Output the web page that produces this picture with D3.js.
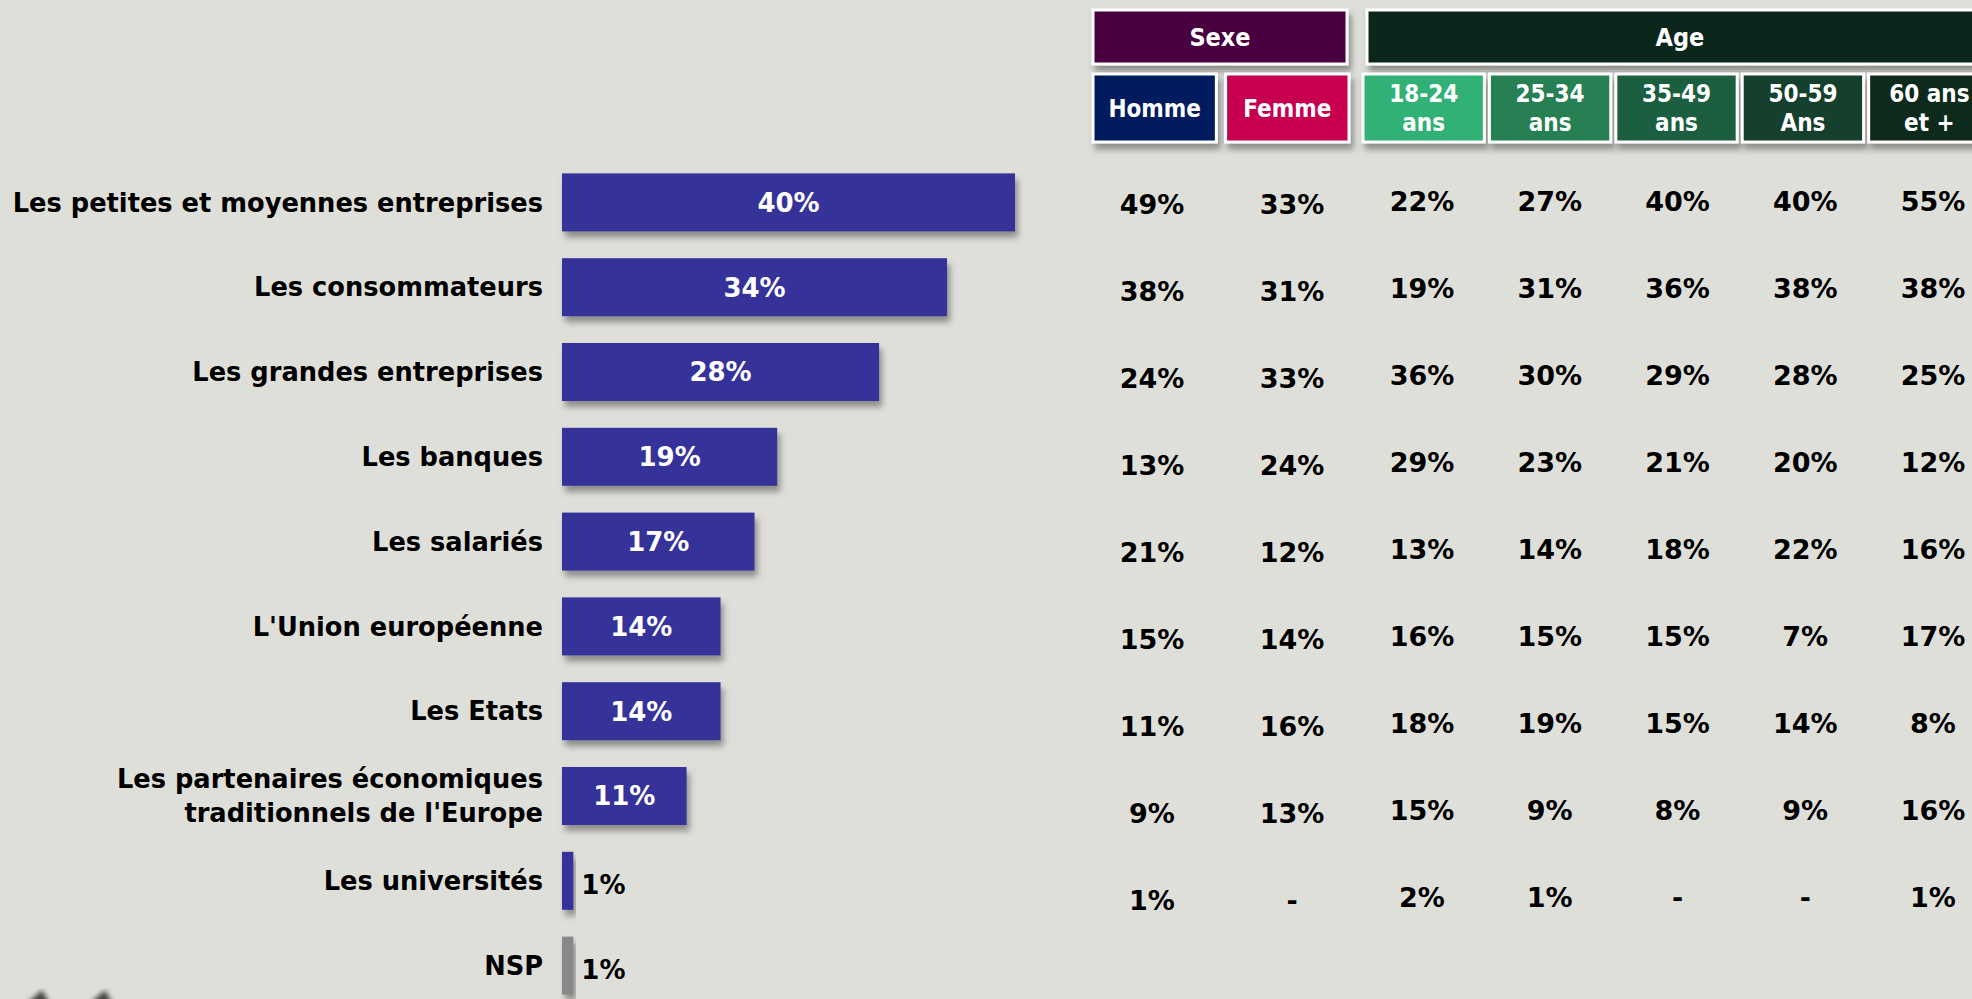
<!DOCTYPE html>
<html lang="fr">
<head>
<meta charset="utf-8">
<script src="https://cdn.jsdelivr.net/npm/d3@7"></script>
<style>
  body{margin:0;background:#dfdfda;overflow:hidden;}
  text{font-family:"DejaVu Sans",Verdana,sans-serif;font-weight:bold;}
  .head{font-family:"DejaVu Sans Condensed","DejaVu Sans",sans-serif;font-stretch:condensed;fill:white;}
</style>
</head>
<body>
<div id="chart"></div>
<script>
// data
var categories=["Les petites et moyennes entreprises","Les consommateurs","Les grandes entreprises","Les banques","Les salariés","L'Union européenne","Les Etats","Les partenaires économiques\ntraditionnels de l'Europe","Les universités","NSP"];
var totals=[40,34,28,19,17,14,14,11,1,1];

var columns=["Homme","Femme","18-24\nans","25-34\nans","35-49\nans","50-59\nAns","60 ans\net +"];
var groups=["Sexe","Age"];
var homme=[49,38,24,13,21,15,11,9,1];
var femme=[33,31,33,24,12,14,16,13,null];
var a1824=[22,19,36,29,13,16,18,15,2];
var a2534=[27,31,30,23,14,15,19,9,1];
var a3549=[40,36,29,21,18,15,15,8,null];
var a5059=[40,38,28,20,22,7,14,9,null];
var a60=[55,38,25,12,16,17,8,16,1];
var series=[homme,femme,a1824,a2534,a3549,a5059,a60];

var width=1972,height=999;

var svg=d3.select("#chart").append("svg")
  .attr("width",width)
  .attr("height",height);

svg.append("rect").attr("width",width).attr("height",height).attr("fill","#dfdfda");

var defs=svg.append("defs");
defs.append("filter").attr("id","shadow")
  .attr("x","-10%").attr("y","-20%").attr("width","130%").attr("height","160%")
  .append("feDropShadow")
  .attr("dx",3).attr("dy",6).attr("stdDeviation",3)
  .attr("flood-color","#555").attr("flood-opacity",0.6);
defs.append("filter").attr("id","blur")
  .append("feGaussianBlur").attr("stdDeviation",2.5);

// bars
var x=d3.scaleLinear().domain([0,40]).range([0,453]);
var y=d3.scaleBand().domain(categories).range([160,1008]).paddingInner(0.316).paddingOuter(0.158);
var x0=562;

var rows=svg.append("g").selectAll("g")
  .data(categories)
  .enter()
  .append("g")
  .attr("transform",function(d){return "translate(0,"+y(d)+")";});

rows.append("rect")
  .attr("x",x0)
  .attr("width",function(d,i){return x(totals[i]);})
  .attr("height",y.bandwidth())
  .attr("fill",function(d){return d=="NSP"?"#888888":"#35339a";})
  .attr("filter","url(#shadow)");

rows.append("text")
  .attr("x",function(d,i){
    return totals[i]<5 ? x0+x(totals[i])+8 : x0+x(totals[i])/2;
  })
  .attr("y",function(d,i){return totals[i]<5?y.bandwidth()/2+4:y.bandwidth()/2;})
  .attr("dy","0.36em")
  .attr("text-anchor",function(d,i){return totals[i]<5?"start":"middle";})
  .attr("fill",function(d,i){return totals[i]<5?"black":"white";})
  .style("font-size","26px")
  .text(function(d,i){return totals[i]+"%";});

// category labels
rows.append("text")
  .attr("x",x0-19)
  .attr("y",y.bandwidth()/2)
  .attr("text-anchor","end")
  .style("font-size","25.7px")
  .each(function(d){
    var lines=d.split("\n");
    var t=d3.select(this);
    lines.forEach(function(l,k){
      t.append("tspan")
        .attr("x",x0-19)
        .attr("y",y.bandwidth()/2+(k-(lines.length-1)/2)*34)
        .attr("dy","0.36em")
        .text(l);
    });
  });

// header boxes
var sexCols=columns.slice(0,2), ageCols=columns.slice(2);
var xs=d3.scaleBand().domain(sexCols).range([1093,1349]).paddingInner(0.07);
var xa=d3.scaleBand().domain(ageCols).range([1363,1990]).paddingInner(0.04);
function colX(c){return sexCols.indexOf(c)>=0?xs(c):xa(c);}
function colW(c){return sexCols.indexOf(c)>=0?xs.bandwidth():xa.bandwidth();}

var groupBoxes=[
  {name:groups[0],x0:1093,x1:1347,color:"#480041"},
  {name:groups[1],x0:1367,x1:2000,color:"#0d281c"}
];
var colColors=["#001f5f","#c6004f","#33b176","#268052","#1f5e41","#183f2d","#10291d"];

var hg=svg.append("g");
hg.selectAll("rect.grp")
  .data(groupBoxes)
  .enter()
  .append("rect")
  .attr("class","grp")
  .attr("x",function(d){return d.x0;})
  .attr("y",10)
  .attr("width",function(d){return d.x1-d.x0;})
  .attr("height",54)
  .attr("fill",function(d){return d.color;})
  .attr("stroke","white")
  .attr("stroke-width",3)
  .attr("filter","url(#shadow)");

hg.selectAll("text.grp")
  .data(groupBoxes)
  .enter()
  .append("text")
  .attr("class","head")
  .attr("x",function(d){return d.name=="Age"?1680:(d.x0+d.x1)/2;})
  .attr("y",37)
  .attr("dy","0.36em")
  .attr("text-anchor","middle")
  .style("font-size","25px")
  .text(function(d){return d.name;});

hg.selectAll("rect.col")
  .data(columns)
  .enter()
  .append("rect")
  .attr("class","col")
  .attr("x",colX)
  .attr("y",74)
  .attr("width",colW)
  .attr("height",68)
  .attr("fill",function(d,i){return colColors[i];})
  .attr("stroke","white")
  .attr("stroke-width",3)
  .attr("filter","url(#shadow)");

hg.selectAll("text.col")
  .data(columns)
  .enter()
  .append("text")
  .attr("class","head")
  .attr("text-anchor","middle")
  .style("font-size","24px")
  .each(function(d){
    var lines=d.split("\n");
    var t=d3.select(this);
    var cx=colX(d)+colW(d)/2;
    lines.forEach(function(l,k){
      t.append("tspan")
        .attr("x",cx)
        .attr("y",108+(k-(lines.length-1)/2)*29)
        .attr("dy","0.36em")
        .text(l);
    });
  });

// table values
var xvs=d3.scalePoint().domain(sexCols).range([1152,1292]);
var xva=d3.scalePoint().domain(ageCols).range([1422,1933]);
function valX(c){return sexCols.indexOf(c)>=0?xvs(c):xva(c);}
var yv=d3.scalePoint().domain(d3.range(9)).range([201,897]);

var cells=[];
series.forEach(function(s,c){
  s.forEach(function(v,r){
    cells.push({col:columns[c],row:r,value:v});
  });
});

svg.append("g").selectAll("text")
  .data(cells)
  .enter()
  .append("text")
  .attr("x",function(d){return valX(d.col);})
  .attr("y",function(d){return yv(d.row)+(sexCols.indexOf(d.col)>=0?3:0);})
  .attr("dy","0.36em")
  .attr("text-anchor","middle")
  .style("font-size","27px")
  .text(function(d){return d.value==null?"-":d.value+"%";});

// logo fragments bottom left
svg.append("g").attr("filter","url(#blur)")
  .selectAll("path")
  .data([42,105])
  .enter()
  .append("path")
  .attr("d",function(d){return "M"+(d-16)+",1004 L"+d+",990 L"+(d+8)+",1004 Z";})
  .attr("fill","#444");
</script>
</body>
</html>
